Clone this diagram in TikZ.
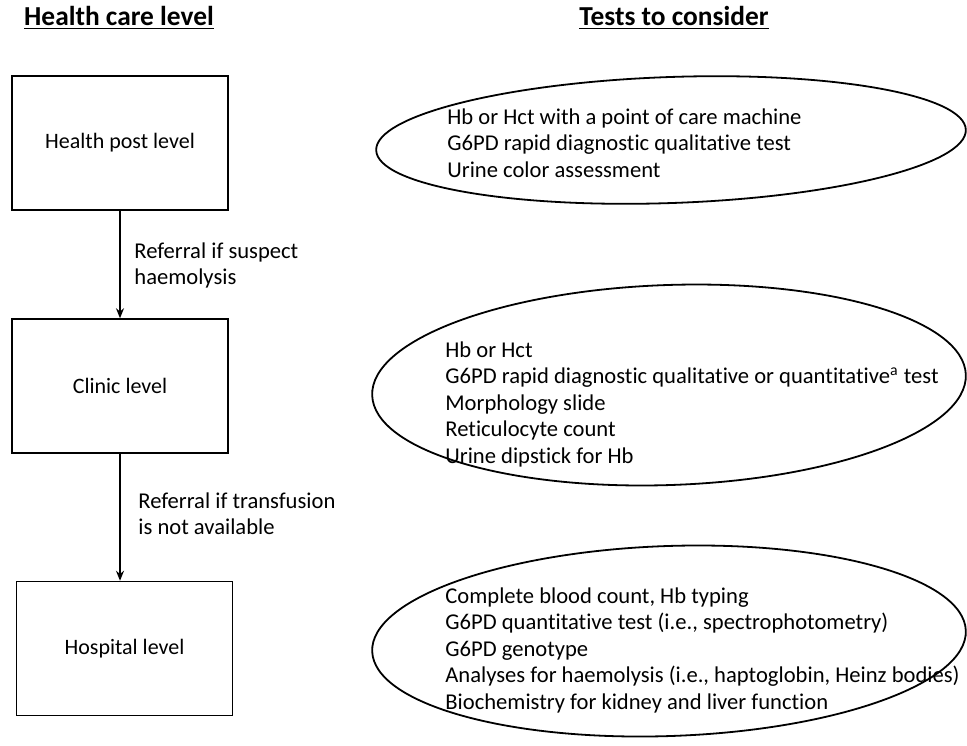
\documentclass[tikz,border=0pt]{standalone}
\usepackage{fontspec}
\setmainfont{Carlito}[Ligatures=CommonOff]
\usetikzlibrary{arrows.meta,shapes.geometric}
\begin{document}
\begin{tikzpicture}[x=0.5pt,y=-0.5pt,
    levelbox/.style={draw,line width=0.75pt,minimum width=108pt,minimum height=67pt,font=\fontsize{11}{13.25}\selectfont},
    testoval/.style={draw,ellipse,line width=0.9pt,rotate=2,inner sep=0pt},
    testlist/.style={anchor=west,align=left,inner sep=0pt,font=\fontsize{11.3}{13.25}\selectfont},
    heading/.style={font=\fontsize{13.7}{16}\selectfont\bfseries},
    referral/.style={line width=1pt,-{Stealth[length=5pt,width=4pt]}}]
    \useasboundingbox (0,0) rectangle (967,745);

    \node[heading] (hcl) at (119,18) {\underline{Health care level}};
    \node[heading] (ttc) at (674,18) {\underline{Tests to consider}};

    \node[levelbox] (post) at (120,143) {Health post level};
    \node[levelbox] (clinic) at (120,386) {Clinic level};
    \node[levelbox] (hosp) at (124.5,648.5) {Hospital level};

    \draw[referral] (post.south) -- (clinic.north);
    \draw[referral] (clinic.south) -- (clinic.south |- hosp.north);

    \node[testlist] (ref1) at (134,265.5) {Referral if suspect\\haemolysis};
    \node[testlist] (ref2) at (138,513.5) {Referral if transfusion\\is not available};

    \node[testoval,minimum width=295pt,minimum height=63pt] (oval1) at (671,140) {};
    \node[testoval,minimum width=297pt,minimum height=100pt] (oval2) at (669,385) {};
    \node[testoval,minimum width=297pt,minimum height=95pt] (oval3) at (669,641) {};

    \node[testlist] (list1) at (447,143) {Hb or Hct with a point of care machine\\G6PD rapid diagnostic qualitative test\\Urine color assessment};
    \node[testlist] (list2) at (445,404) {Hb or Hct\\G6PD rapid diagnostic qualitative or quantitative\textsuperscript{a} test\\Morphology slide\\Reticulocyte count\\Urine dipstick for Hb};
    \node[testlist] (list3) at (445,650) {Complete blood count, Hb typing\\G6PD quantitative test (i.e., spectrophotometry)\\G6PD genotype\\Analyses for haemolysis (i.e., haptoglobin, Heinz bodies)\\Biochemistry for kidney and liver function};
\end{tikzpicture}
\end{document}
